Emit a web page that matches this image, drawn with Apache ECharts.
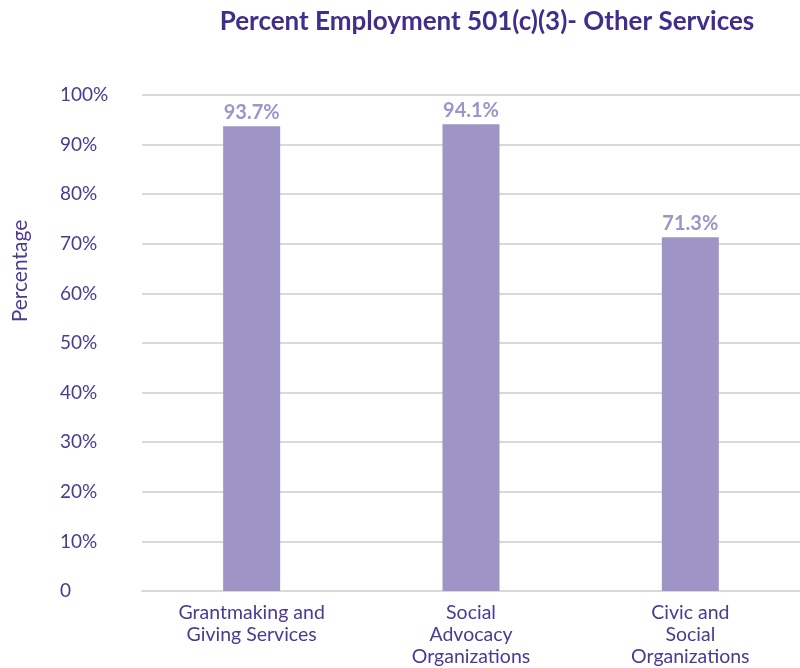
<!DOCTYPE html>
<html>
<head>
<meta charset="utf-8">
<script src="https://cdn.jsdelivr.net/npm/echarts@6/dist/echarts.min.js"></script>
<style>html,body{margin:0;padding:0;background:#fff}#c{width:800px;height:668px}</style>
</head>
<body>
<div id="c"></div>
<script>
const categories = ["Grantmaking and\nGiving Services", "Social\nAdvocacy\nOrganizations", "Civic and\nSocial\nOrganizations"];
const values = [93.7, 94.1, 71.3];
const yTicks = {min: 0, max: 100, interval: 10};

const dark = '#4b3a93';
const chart = echarts.init(document.getElementById('c'));
chart.setOption({
  animation: false,
  title: {
    text: 'Percent Employment 501(c)(3)- Other Services',
    left: 482, top: 4, textAlign: 'center',
    textStyle: {fontFamily: 'Lato', fontWeight: 'bold', fontSize: 26, color: '#3f2e8c'}
  },
  graphic: [{
    type: 'text', x: 20, y: 271, rotation: Math.PI / 2,
    style: {text: 'Percentage', fill: dark, font: '21px Lato', align: 'center', verticalAlign: 'middle'}
  }],
  grid: {left: 142, right: -4, top: 95, bottom: 76},
  xAxis: {
    type: 'category', data: categories,
    axisLine: {show: true, lineStyle: {color: '#d9d9d9', width: 2}},
    axisTick: {show: false},
    axisLabel: {color: dark, fontFamily: 'Lato', fontSize: 19.5, lineHeight: 22, margin: 11, interval: 0}
  },
  yAxis: {
    type: 'value', min: yTicks.min, max: yTicks.max, interval: yTicks.interval,
    axisLine: {show: false}, axisTick: {show: false},
    splitLine: {lineStyle: {color: '#d9d9d9', width: 2}},
    axisLabel: {color: dark, fontFamily: 'Lato', fontSize: 19, align: 'left', margin: 82,
      formatter: v => v === 0 ? '0' : v + '%'}
  },
  series: [{
    type: 'bar', data: values, barWidth: 57,
    itemStyle: {color: '#9e94c6'},
    label: {show: true, position: 'top', distance: 4, color: '#9e94c7', fontFamily: 'Lato', fontWeight: 'bold', fontSize: 20,
      formatter: p => p.value.toFixed(1) + '%'}
  }]
});
</script>
</body>
</html>
